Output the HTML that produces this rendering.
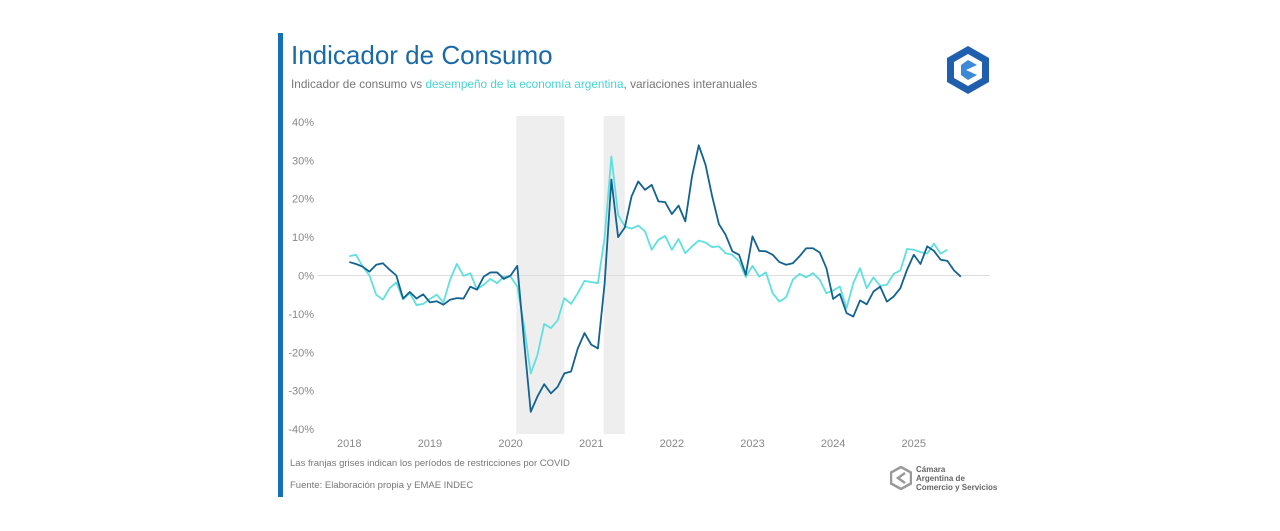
<!DOCTYPE html>
<html><head><meta charset="utf-8"><style>
body{margin:0;background:#fff;width:1280px;height:531px;overflow:hidden;font-family:"Liberation Sans",sans-serif;position:relative}
.abs{position:absolute}
</style></head><body>
<div class="abs" style="left:278px;top:33px;width:5px;height:464px;background:#1570b8"></div>
<div class="abs" style="left:291px;top:40px;font-size:26px;color:#1a6aa8">Indicador de Consumo</div>
<div class="abs" style="left:291px;top:77px;font-size:11.8px;color:#777">Indicador de consumo vs <span style="color:#45d4d4">desempeño de la economía argentina</span>, variaciones interanuales</div>
<svg class="abs" style="left:944px;top:44px" width="48" height="52" viewBox="0 0 48 52">
<polygon points="24,2 45,14 45,38 24,50 3,38 3,14" fill="#1f5fae"/>
<polygon points="24,10 38,18 38,34 24,42 10,34 10,18" fill="#fff"/>
<polygon points="24,16 33,21 33,31 24,36 17,31 17,21" fill="#3a8ad8"/>
<polygon points="33,21 33,31 22,26" fill="#fff"/>
</svg>
<svg class="abs" style="left:890px;top:466px" width="22" height="24" viewBox="0 0 22 24">
<polygon points="11,1 21,6.5 21,17.5 11,23 1,17.5 1,6.5" fill="none" stroke="#999" stroke-width="2.5"/>
<polyline points="15,7 8,12 15,17" fill="none" stroke="#999" stroke-width="2.5"/>
</svg>
<div class="abs" style="left:916px;top:465px;font-size:8px;line-height:9px;color:#666;font-weight:bold">Cámara<br>Argentina de<br>Comercio y Servicios</div>
<div class="abs" style="left:290px;top:458px;font-size:9.5px;color:#777">Las franjas grises indican los períodos de restricciones por COVID</div>
<div class="abs" style="left:290px;top:480px;font-size:9.5px;color:#777">Fuente: Elaboración propia y EMAE INDEC</div>
<svg class="abs" id="chart" style="left:0;top:0" width="1280" height="531"></svg>
<script>
const years=["2018","2019","2020","2021","2022","2023","2024","2025"];
const yTicks=[40,30,20,10,0,-10,-20,-30,-40];
const covidBands=[[25,32],[38,41]];
const consumo=[3.5,3,2.3,1,2.8,3.2,1.5,0,-6,-4.3,-6,-4.9,-7,-6.7,-7.6,-6.3,-5.9,-6,-2.9,-3.7,-0.3,0.8,0.8,-0.9,
0,2.5,-17,-35.5,-31.5,-28.3,-30.7,-29,-25.5,-25,-19,-15,-18,-19,-2,25,10,12.5,20.6,24.5,
22.3,23.6,19.3,19.1,16,18.2,14.1,25.8,33.9,28.9,20.6,13.4,10.6,6.3,5.4,0.2,
10.2,6.4,6.3,5.4,3.5,2.8,3.2,5,7.1,7.1,6,1.9,-6.1,-4.8,-9.8,-10.7,-6.5,-7.5,-4.2,-2.9,-6.8,-5.5,-3.3,1.5,
5.4,3,7.6,6.4,4.1,3.8,1.3,-0.3];
const emae=[5,5.4,2.3,0,-5,-6.3,-3.3,-1.8,-6.2,-4.6,-7.7,-7.4,-6.1,-5,-7,-1.1,3,-0.1,0.6,-3.6,-2.4,-0.9,-2,-0.3,
-0.3,-2.9,-13,-25.5,-20.7,-12.6,-13.7,-11.7,-5.9,-7.4,-4.6,-1.4,-1.7,-2,10,31,15.8,12.8,12.2,13,
11.5,6.7,9.3,10.3,6.7,9.5,5.8,7.6,9.1,8.6,7.4,7.6,5.8,5.4,3.7,-0.4,
2.5,-0.3,0.8,-4.6,-6.8,-5.7,-1.1,0.4,-0.5,0.6,-1.1,-4.6,-3.9,-2.9,-8.5,-2,1.9,-3.3,-0.5,-2.7,-2.4,0.4,1.3,6.9,
6.7,6.1,5.7,8.3,5.7,6.7];
const svg=document.getElementById('chart');
const NS='http://www.w3.org/2000/svg';
const x=i=>349.3+i*6.72;
const y=v=>275.5-v*3.84;
function mk(t,a){const e=document.createElementNS(NS,t);for(const k in a)e.setAttribute(k,a[k]);svg.appendChild(e);return e;}
covidBands.forEach(b=>{
 const r=mk('rect',{x:x(b[0])-1,y:116,width:x(b[1])-x(b[0])+1,height:318,fill:'#eeeeee'});
 
 
});
const z=mk('line',{x1:318,x2:990,y1:y(0),y2:y(0),stroke:'#ddd','stroke-width':1});


yTicks.forEach(v=>{
 const t=mk('text',{x:314,y:y(v)+4,'text-anchor':'end','font-size':11,fill:'#888','font-family':'Liberation Sans'});
 t.textContent=v+'%';
 
 
});
years.forEach((yr,i)=>{
 const t=mk('text',{x:x(i*12),y:447,'text-anchor':'middle','font-size':11,fill:'#888','font-family':'Liberation Sans'});
 t.textContent=yr;
 
 
});
function line(d,c,n){
 const p=mk('polyline',{points:d.map((v,i)=>x(i)+','+y(v)).join(' '),fill:'none',stroke:c,'stroke-width':1.8,'stroke-linejoin':'round'});
 
 
}
line(emae,'#5fe0de','emae-line');
line(consumo,'#13628f','consumo-line');
</script>
</body></html>
